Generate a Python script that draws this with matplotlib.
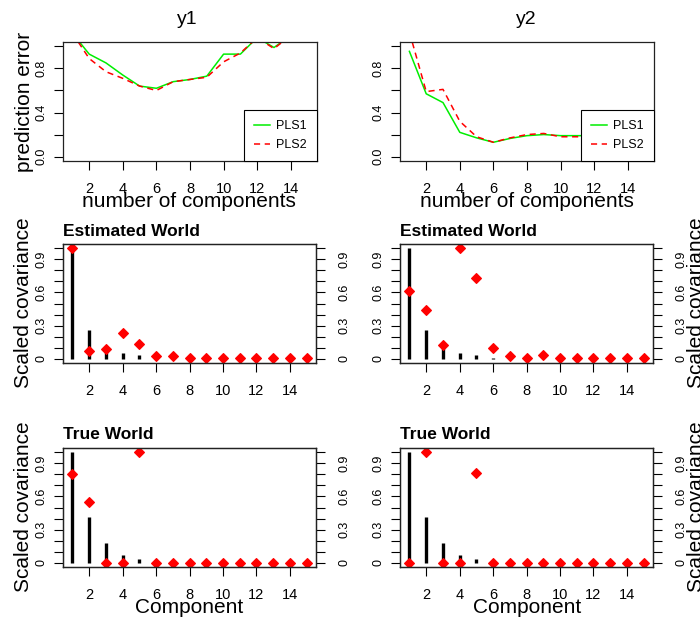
import numpy as np
import matplotlib
matplotlib.use('Agg')
import matplotlib.pyplot as plt

plt.rcParams['font.family'] = ['Liberation Sans', 'DejaVu Sans']

# datos
comp = np.arange(1, 16)

# error de prediccion (y1, y2) para PLS1 y PLS2
y1_pls1 = [1.12, 0.93, 0.85, 0.74, 0.64, 0.62, 0.68, 0.70, 0.73, 0.93, 0.93, 1.08, 0.99, 1.10, 1.12]
y1_pls2 = [1.12, 0.89, 0.77, 0.71, 0.64, 0.60, 0.68, 0.70, 0.72, 0.86, 0.94, 1.08, 0.98, 1.10, 1.12]
y2_pls1 = [0.955, 0.57, 0.49, 0.22, 0.17, 0.13, 0.165, 0.19, 0.20, 0.19, 0.19, 0.19, 0.19, 0.19, 0.19]
y2_pls2 = [1.13, 0.59, 0.61, 0.32, 0.18, 0.13, 0.17, 0.20, 0.21, 0.18, 0.18, 0.18, 0.18, 0.18, 0.18]

# covarianza escalada (barras negras y puntos rojos)
est_barras = [1.0, 0.26, 0.10, 0.055, 0.033, 0.005, 0, 0, 0, 0, 0, 0, 0, 0, 0]
est_y1 = [1.0, 0.07, 0.09, 0.235, 0.13, 0.02, 0.02, 0.005, 0.005, 0.005, 0.005, 0.005, 0.005, 0.005, 0.005]
est_y2 = [0.61, 0.44, 0.12, 1.0, 0.73, 0.094, 0.02, 0.005, 0.033, 0.005, 0.005, 0.005, 0.005, 0.005, 0.005]
true_barras = [1.0, 0.415, 0.175, 0.068, 0.03, 0, 0, 0, 0, 0, 0, 0, 0, 0, 0]
true_y1 = [0.80, 0.55, 0, 0, 1.0, 0, 0, 0, 0, 0, 0, 0, 0, 0, 0]
true_y2 = [0, 1.0, 0, 0, 0.81, 0, 0, 0, 0, 0, 0, 0, 0, 0, 0]

W, H = 700, 619
fig = plt.figure(figsize=(7, 6.19), dpi=100)


def caja(x0, y0, x1, y1):
    return fig.add_axes([x0 / W, 1 - y1 / H, (x1 - x0) / W, (y1 - y0) / H])


def ejes_comunes(ax, yticks, ylabels, pad_y=5):
    ax.set_xlim(0.44, 15.56)
    ax.set_ylim(-0.04, 1.04)
    ax.set_xticks(range(2, 15, 2))
    ax.set_yticks(yticks)
    ax.set_yticklabels(ylabels)
    for s in ax.spines.values():
        s.set_linewidth(0.9)
        s.set_color('#222222')
    ax.tick_params(axis='x', direction='out', length=6.5, width=0.8, pad=8.5, labelsize=10.5)
    ax.tick_params(axis='y', direction='out', length=6.5, width=0.8, pad=pad_y, labelsize=9,
                   labelrotation=90)
    for lab in ax.get_yticklabels():
        lab.set_va('center')


def panel_error(ax, pls1, pls2):
    ax.plot(comp, pls1, color='#00ee00', lw=1.1, label='PLS1')
    ax.plot(comp, pls2, color='red', lw=1.1, ls=(0, (4, 3)), label='PLS2')
    ejes_comunes(ax, np.arange(0, 1.01, 0.2), ['0.0', '', '0.4', '', '0.8', ''])
    leg = ax.legend(loc='lower right', bbox_to_anchor=(1, 0), borderaxespad=0, fancybox=False,
                    edgecolor='black', framealpha=1, fontsize=9, handlelength=1.3,
                    handletextpad=0.5, borderpad=0.8, labelspacing=0.55)
    leg.get_frame().set_linewidth(0.8)


def panel_cov(ax, barras, puntos):
    ax.vlines(comp, 0, barras, color='black', lw=2.4)
    ax.plot(comp, puntos, ls='none', marker='D', ms=4.8, color='red', mew=0.8)
    ticks = np.arange(0, 1.01, 0.1)
    etiquetas = ['0', '', '', '0.3', '', '', '0.6', '', '', '0.9', '']
    ejes_comunes(ax, ticks, etiquetas)
    # eje derecho con su propio espaciado
    der = ax.twinx()
    ejes_comunes(der, ticks, etiquetas, pad_y=10)
    der.tick_params(axis='y', left=False, labelleft=False, right=True, labelright=True)
    for lab in der.get_yticklabels():
        lab.set_va('center')


ax1 = caja(63, 42, 317, 161)
panel_error(ax1, y1_pls1, y1_pls2)
ax2 = caja(400, 42, 654, 161)
panel_error(ax2, y2_pls1, y2_pls2)

ax3 = caja(63, 244, 316, 363)
panel_cov(ax3, est_barras, est_y1)
ax4 = caja(400, 244, 653, 363)
panel_cov(ax4, est_barras, est_y2)
ax5 = caja(63, 448, 316, 567)
panel_cov(ax5, true_barras, true_y1)
ax6 = caja(400, 448, 653, 567)
panel_cov(ax6, true_barras, true_y2)

# textos
fig.text(187 / W, 1 - 19 / H, 'y1', ha='center', va='center', fontsize=14)
fig.text(526 / W, 1 - 19 / H, 'y2', ha='center', va='center', fontsize=14)
fig.text(189 / W, 1 - 207 / H, 'number of components', ha='center', va='baseline', fontsize=15)
fig.text(527 / W, 1 - 207 / H, 'number of components', ha='center', va='baseline', fontsize=15)
fig.text(189 / W, 1 - 613 / H, 'Component', ha='center', va='baseline', fontsize=15)
fig.text(527 / W, 1 - 613 / H, 'Component', ha='center', va='baseline', fontsize=15)
fig.text(25 / W, 1 - 102 / H, 'prediction error', rotation=90, ha='center', va='center', fontsize=15)
for yc in (303, 507):
    fig.text(24 / W, 1 - yc / H, 'Scaled covariance', rotation=90, ha='center', va='center', fontsize=15)
    fig.text(697 / W, 1 - yc / H, 'Scaled covariance', rotation=90, ha='center', va='center', fontsize=15)
fig.text(63 / W, 1 - 236 / H, 'Estimated World', ha='left', va='baseline', fontsize=12.5, fontweight='bold')
fig.text(400 / W, 1 - 236 / H, 'Estimated World', ha='left', va='baseline', fontsize=12.5, fontweight='bold')
fig.text(63 / W, 1 - 439 / H, 'True World', ha='left', va='baseline', fontsize=12.5, fontweight='bold')
fig.text(400 / W, 1 - 439 / H, 'True World', ha='left', va='baseline', fontsize=12.5, fontweight='bold')

fig.savefig('out.png', dpi=100)
